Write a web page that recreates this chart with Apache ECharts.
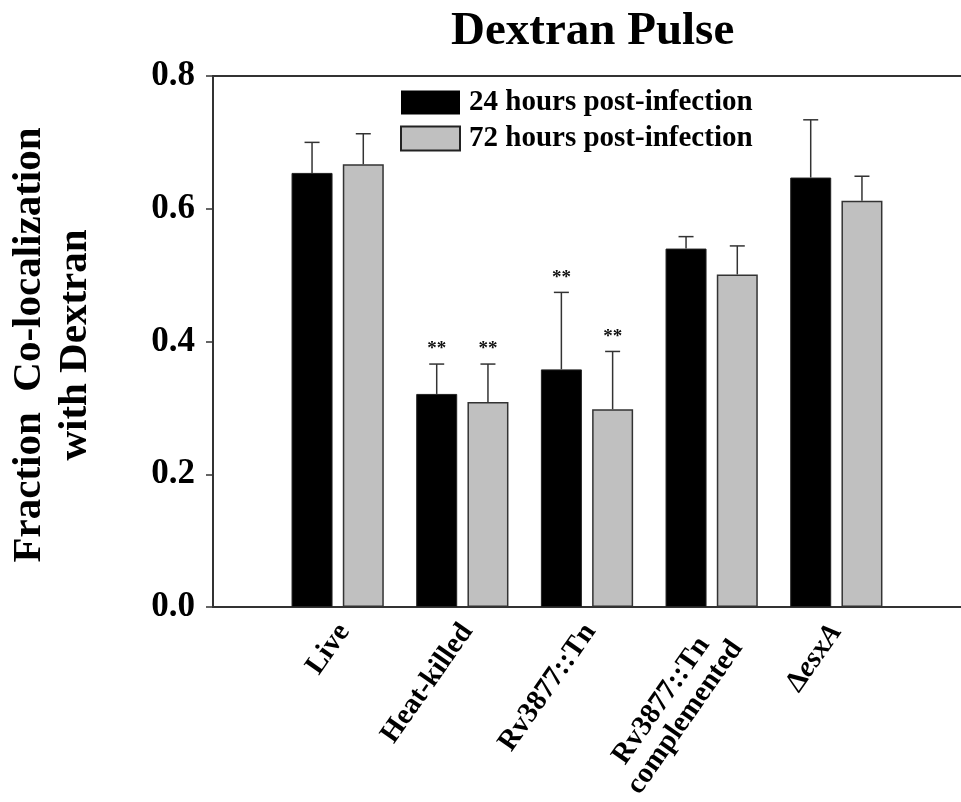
<!DOCTYPE html>
<html>
<head>
<meta charset="utf-8">
<script src="https://cdn.jsdelivr.net/npm/echarts@6/dist/echarts.min.js"></script>
<style>
  html, body { margin: 0; padding: 0; background: #fff; }
  #chart { width: 961px; height: 802px; }
</style>
</head>
<body>
<div id="chart"></div>
<script>
// Strains tested
const categories = ['Live', 'Heat-killed', 'Rv3877::Tn', 'Rv3877::Tn\ncomplemented', 'ΔesxA'];
const seriesNames = ['24 hours post-infection', '72 hours post-infection'];

// Mean fraction co-localized with dextran
const mean24 = [0.654, 0.321, 0.358, 0.540, 0.647];
const mean72 = [0.667, 0.309, 0.298, 0.501, 0.612];

// Standard error (upper bar only drawn)
const err24 = [0.046, 0.045, 0.116, 0.018, 0.087];
const err72 = [0.046, 0.057, 0.087, 0.043, 0.037];

// Significance marks
const sig24 = ['', '**', '**', '', ''];
const sig72 = ['', '**', '**', '', ''];

const yTicks = [0.0, 0.2, 0.4, 0.6, 0.8];

const FONT = '"Liberation Serif", "Times New Roman", serif';
const BAR_W = 41;
const GAP = 10.25;
const HALF = (BAR_W + GAP) / 2;
const LABEL_SHIFT = 8;

// Padded category axis so the axis extends a half-step beyond the outer groups
const axisCats = [''].concat(categories, ['']);
const pad = arr => [null].concat(arr, [null]);

function errData(means, errs, sig) {
  return means.map((m, i) => [i + 1, m, m + errs[i], sig[i]]);
}

function errRender(offset) {
  return function (params, api) {
    const x = api.value(0);
    const base = api.coord([x, api.value(1)]);
    const top = api.coord([x, api.value(2)]);
    const cx = base[0] + offset;
    const style = { stroke: '#333', lineWidth: 1.5 };
    const children = [
      { type: 'line', shape: { x1: cx, y1: base[1], x2: cx, y2: top[1] }, style: style },
      { type: 'line', shape: { x1: cx - 7.5, y1: top[1], x2: cx + 7.5, y2: top[1] }, style: style }
    ];
    const mark = api.value(3);
    if (mark) {
      children.push({
        type: 'text',
        style: {
          x: cx, y: top[1] - 5, text: mark,
          fill: '#111', font: 'bold 19px ' + FONT,
          align: 'center', verticalAlign: 'bottom'
        }
      });
    }
    return { type: 'group', children: children };
  };
}

// Two-line label keeps its first line on the tick anchor; a blank line above balances the block
function catLabel(v) {
  if (v === 'ΔesxA') return '{n|Δ}{i|esxA}';
  if (v.indexOf('\n') >= 0) {
    return v.split('\n').reduce((s, line) => s + '\n{c|' + line + '}', '{c| }');
  }
  return v ? '{n|' + v + '}' : '';
}

const labelText = { fontFamily: FONT, fontWeight: 'bold', fontSize: 29, color: '#000' };

const chart = echarts.init(document.getElementById('chart'), null, { renderer: 'canvas' });
chart.setOption({
  animation: false,
  backgroundColor: '#fff',
  title: {
    text: 'Dextran Pulse',
    left: 451,
    top: 8,
    padding: 0,
    textStyle: { fontFamily: FONT, fontWeight: 'bold', fontSize: 47, color: '#000' }
  },
  legend: {
    orient: 'vertical',
    left: 400,
    top: 88,
    padding: 0,
    itemWidth: 59,
    itemHeight: 24,
    itemGap: 7,
    icon: 'rect',
    data: [
      { name: seriesNames[0], itemStyle: { color: '#000', borderWidth: 0 } },
      { name: seriesNames[1], itemStyle: { color: '#c0c0c0', borderColor: '#222', borderWidth: 2 } }
    ],
    textStyle: { fontFamily: FONT, fontWeight: 'bold', fontSize: 29, color: '#000', padding: [0, 0, 0, 4] }
  },
  grid: [
    { left: 213, right: -10, top: 76, bottom: 195, containLabel: false },
    // grid that only carries the category labels, nudged right
    { left: 213 + LABEL_SHIFT, right: -10 - LABEL_SHIFT, top: 76, bottom: 195, containLabel: false }
  ],
  xAxis: [
    {
      type: 'category',
      gridIndex: 0,
      data: axisCats,
      boundaryGap: false,
      axisLine: { lineStyle: { color: '#333', width: 2 } },
      axisTick: { show: false },
      axisLabel: { show: false },
      splitLine: { show: false }
    },
    {
      type: 'category',
      gridIndex: 0,
      data: axisCats,
      boundaryGap: false,
      position: 'top',
      axisLine: { lineStyle: { color: '#333', width: 2 } },
      axisTick: { show: false },
      axisLabel: { show: false },
      splitLine: { show: false }
    },
    {
      type: 'category',
      gridIndex: 1,
      data: axisCats,
      boundaryGap: false,
      position: 'bottom',
      axisLine: { show: false },
      axisTick: { show: false },
      axisLabel: {
        rotate: 55,
        margin: 25,
        interval: 0,
        fontFamily: FONT,
        fontSize: 29,
        lineHeight: 29,
        formatter: catLabel,
        rich: {
          n: labelText,
          i: Object.assign({}, labelText, { fontStyle: 'italic' }),
          c: Object.assign({}, labelText, { align: 'center', lineHeight: 29 })
        }
      },
      splitLine: { show: false }
    }
  ],
  yAxis: [
    {
      type: 'value',
      gridIndex: 0,
      min: yTicks[0],
      max: yTicks[yTicks.length - 1],
      interval: 0.2,
      axisLine: { show: true, lineStyle: { color: '#333', width: 2 } },
      axisTick: { show: true, inside: false, length: 7, lineStyle: { color: '#333', width: 1.5 } },
      axisLabel: {
        margin: 18,
        formatter: v => v.toFixed(1),
        fontFamily: FONT, fontWeight: 'bold', fontSize: 35, color: '#000'
      },
      splitLine: { show: false }
    },
    {
      type: 'value',
      gridIndex: 1,
      show: false
    }
  ],
  graphic: [
    {
      type: 'text',
      x: 52,
      y: 345,
      rotation: Math.PI / 2,
      style: {
        text: 'Fraction  Co-localization\nwith Dextran',
        font: 'bold 41px ' + FONT,
        lineHeight: 46,
        fill: '#000',
        align: 'center',
        verticalAlign: 'middle'
      }
    }
  ],
  series: [
    {
      name: seriesNames[0],
      type: 'bar',
      data: pad(mean24),
      barWidth: BAR_W,
      barGap: '25%',
      itemStyle: { color: '#000', borderColor: '#222', borderWidth: 1 }
    },
    {
      name: seriesNames[1],
      type: 'bar',
      data: pad(mean72),
      barWidth: BAR_W,
      barGap: '25%',
      itemStyle: { color: '#c0c0c0', borderColor: '#333', borderWidth: 1.5 }
    },
    {
      type: 'custom',
      renderItem: errRender(-HALF),
      data: errData(mean24, err24, sig24),
      encode: { x: 0, y: [1, 2] },
      z: 5
    },
    {
      type: 'custom',
      renderItem: errRender(HALF),
      data: errData(mean72, err72, sig72),
      encode: { x: 0, y: [1, 2] },
      z: 5
    }
  ]
});
</script>
</body>
</html>
